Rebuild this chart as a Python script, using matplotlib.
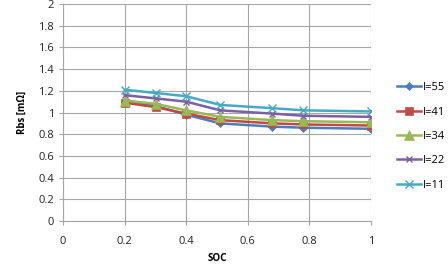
import matplotlib
matplotlib.use("Agg")
import matplotlib.pyplot as plt

soc = [0.2, 0.3, 0.4, 0.51, 0.68, 0.78, 1.0]
labels = ["I=55", "I=41", "I=34", "I=22", "I=11"]
i55 = [1.10, 1.06, 0.98, 0.90, 0.87, 0.86, 0.85]
i41 = [1.09, 1.05, 0.99, 0.93, 0.90, 0.89, 0.88]
i34 = [1.11, 1.08, 1.02, 0.96, 0.93, 0.92, 0.91]
i22 = [1.16, 1.13, 1.10, 1.02, 0.99, 0.97, 0.96]
i11 = [1.21, 1.18, 1.15, 1.07, 1.04, 1.02, 1.01]
series = [i55, i41, i34, i22, i11]
colors = ["#4A7EBB", "#BE4B48", "#98B954", "#7D60A0", "#46AAC5"]
markers = ["D", "s", "^", "x", "x"]
msizes = [4, 6, 7, 5, 6]

plt.rcParams['font.family'] = ['Open Sans', 'DejaVu Sans']
fig = plt.figure(figsize=(4.48, 2.66), dpi=100)
ax = fig.add_axes([0.141, 0.169, 0.687, 0.816])

for y, c, m, ms, lab in zip(series, colors, markers, msizes, labels):
    ax.plot(soc, y, color=c, marker=m, markersize=ms, linewidth=1.8, label=lab,
            markeredgewidth=1.0 if m == "x" else 0.5)

ax.set_xlim(0, 1)
ax.set_ylim(0, 2)
ax.set_xticks([0, 0.2, 0.4, 0.6, 0.8, 1])
ax.set_xticklabels(["0", "0.2", "0.4", "0.6", "0.8", "1"])
ax.set_yticks([0, 0.2, 0.4, 0.6, 0.8, 1, 1.2, 1.4, 1.6, 1.8, 2])
ax.set_yticklabels(["0", "0.2", "0.4", "0.6", "0.8", "1", "1.2", "1.4", "1.6", "1.8", "2"])
ax.grid(True, color="#A6A6A6", linewidth=0.8)
ax.set_axisbelow(True)
for s in ["top", "right"]:
    ax.spines[s].set_visible(False)
for s in ["left", "bottom"]:
    ax.spines[s].set_color("#A6A6A6")
ax.tick_params(axis="both", labelsize=8, color="#A6A6A6", length=3, labelcolor="#222222")
ax.tick_params(axis="x", pad=8)
ax.set_xlabel("SOC", fontsize=7, fontweight="bold", labelpad=4)
ax.set_ylabel("Rbs [mΩ]", fontsize=7, fontweight="bold", labelpad=8)

leg = ax.legend(loc="center left", bbox_to_anchor=(1.07, 0.39), frameon=False,
                fontsize=8, labelspacing=1.2, handlelength=2.2, handletextpad=0.15,
                borderaxespad=0)
fig.savefig("out.png", dpi=100)
